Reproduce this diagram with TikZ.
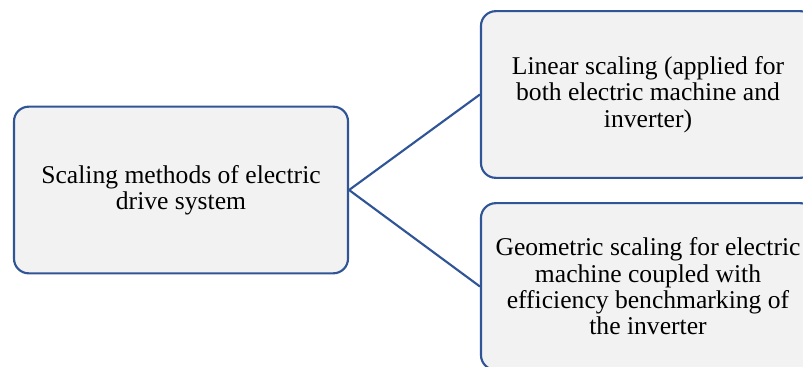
\documentclass[tikz,border=0pt]{standalone}
\usepackage{fontspec}
\setmainfont{Liberation Serif}
\usetikzlibrary{positioning}
\definecolor{boxblue}{RGB}{47,85,151}
\definecolor{boxgray}{RGB}{242,242,242}

\begin{document}
\begin{tikzpicture}[
    x=0.75pt, y=-0.75pt,
    box/.style={rectangle, rounded corners=11pt, draw=boxblue, line width=1.6pt,
                fill=boxgray, minimum width=250.5pt, minimum height=125pt,
                align=center, inner sep=0pt,
                font=\fontsize{19.2}{19.8}\selectfont},
    conn/.style={draw=boxblue, line width=1.6pt}
]
\useasboundingbox (0,0) rectangle (803,367);

\node[box] (S) at (181,190) {Scaling methods of electric\\drive system};
\node[box] (L) at (648,94.5) {Linear scaling (applied for\\both electric machine and\\inverter)};
\node[box] (G) at (648,286.5) {Geometric scaling for electric\\machine coupled with\\efficiency benchmarking of\\the inverter};

\draw[conn] (S.east) -- (L.west);
\draw[conn] (S.east) -- (G.west);

\end{tikzpicture}
\end{document}
